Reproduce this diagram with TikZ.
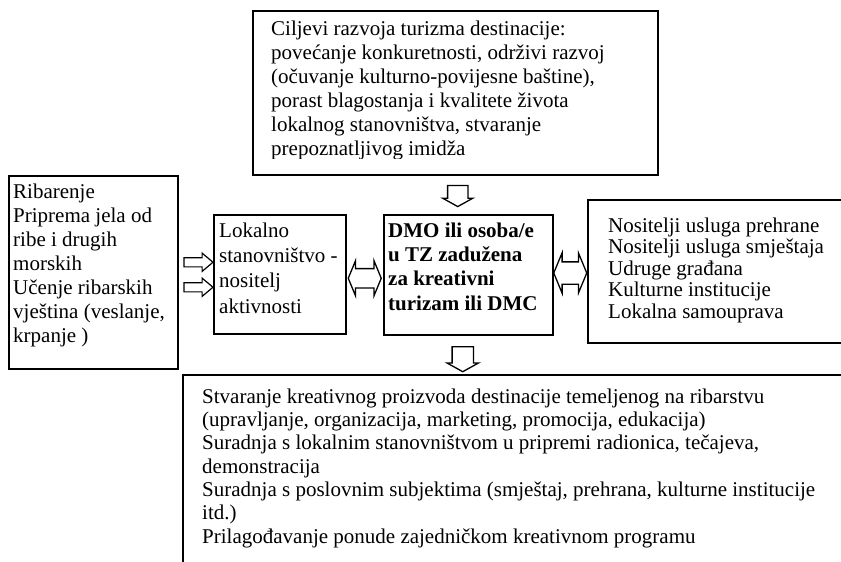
\documentclass[tikz,border=0pt]{standalone}
\usepackage{fontspec}
\setmainfont{Liberation Serif}
\usepackage{tikz}
\usetikzlibrary{shapes,arrows.meta,calc}
\tikzset{
  frame/.style={rectangle, draw, line width=1.5pt, anchor=north west, inner sep=0pt},
  txt/.style={anchor=north west, inner sep=0pt, align=left, font=\fontsize{21}{#1}\selectfont},
  dblarrow/.style={double arrow, draw, line width=1.3pt, inner xsep=0pt, minimum height=33pt, double arrow tip angle=135},
  downarrow/.style={single arrow, draw, line width=1.3pt, inner xsep=0pt, single arrow tip angle=122, rotate=-90},
  rightarrow/.style={single arrow, draw, line width=1.2pt, inner xsep=0pt, inner ysep=4pt, minimum height=29pt, single arrow head extend=4.5pt, single arrow tip angle=80}
}
\newcommand{\dkbox}[4] {\node at (#1) (#2) [frame, minimum width=#3, minimum height=#4] {};}
\newcommand{\dktext}[4] {\node at (#1) (#2) [txt=#3] {\strut #4};}
\newcommand{\dkbetween}[5] {\node at ($(#1)!0.5!(#2)+(#3)$) (#4) [#5] {};}

\begin{document}
\begin{tikzpicture}[x=1pt, y=-1pt]
\useasboundingbox (0,0) rectangle (841,562);

\dkbox {252,10}{goals}{405pt}{164pt}
\begin{scope}
\clip (252,10) rectangle (657,158);
\dktext {271,18.2}{goalstext}{24}{Ciljevi razvoja turizma destinacije:\\povećanje konkuretnosti, održivi razvoj\\(očuvanje kulturno-povijesne baštine),\\porast blagostanja i kvalitete života\\lokalnog stanovništva, stvaranje\\prepoznatljivog imidža}
\end{scope}

\dkbox {8,175}{fishing}{169pt}{193pt}
\dktext {13,181.2}{fishingtext}{24}{Ribarenje\\Priprema jela od\\ribe i drugih\\morskih\\Učenje ribarskih\\vještina (veslanje,\\krpanje )}

\dkbox {213,214}{locals}{132pt}{119pt}
\dktext {219,219.3}{localstext}{25.3}{Lokalno\\stanovništvo -\\nositelj\\aktivnosti}

\dkbox {383,214}{dmo}{169pt}{120pt}
\dktext {388,220}{dmotext}{24.3}{\bfseries DMO ili osoba/e\\\bfseries u TZ zadužena\\\bfseries za kreativni\\\bfseries turizam ili DMC}

\dkbox {587,199}{partners}{300pt}{143pt}
\dktext {608,216.9}{partnerstext}{21.5}{Nositelji usluga prehrane\\Nositelji usluga smještaja\\Udruge građana\\Kulturne institucije\\Lokalna samouprava}

\dkbox {182,374}{plan}{700pt}{220pt}
\dktext {202,386.7}{plantext}{23.3}{Stvaranje kreativnog proizvoda destinacije temeljenog na ribarstvu\\(upravljanje, organizacija, marketing, promocija, edukacija)\\Suradnja s lokalnim stanovništvom u pripremi radionica, tečajeva,\\demonstracija\\Suradnja s poslovnim subjektima (smještaj, prehrana, kulturne institucije\\itd.)\\Prilagođavanje ponude zajedničkom kreativnom programu}

\dkbetween {fishing.east}{locals.west}{0,-11}{skill}{rightarrow}
\dkbetween {fishing.east}{locals.west}{0,14}{food}{rightarrow}
\dkbetween {locals.east}{dmo.west}{0,3.75}{localsdmo}{dblarrow, inner ysep=9pt, double arrow head extend=8pt}
\dkbetween {dmo.east}{partners.west}{0,0}{dmopartners}{dblarrow, inner ysep=10.5pt, double arrow head extend=9pt}
\dkbetween {goals.south}{dmo.north}{-4,-1.5}{goalsdmo}{downarrow, minimum height=21pt, inner ysep=9.5pt, single arrow head extend=5pt}
\dkbetween {dmo.south}{dmo.south |- plan.north}{-5.5,1.5}{dmoplan}{downarrow, minimum height=25pt, inner ysep=10pt, single arrow head extend=5pt}

\end{tikzpicture}
\end{document}
